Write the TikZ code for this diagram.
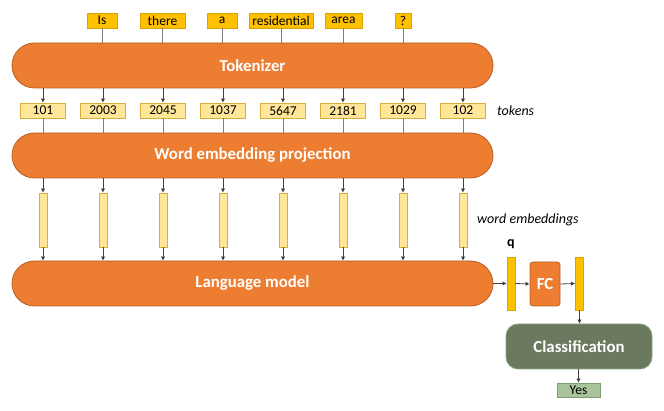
\documentclass[tikz,border=0pt]{standalone}
\usepackage{fontspec}
\setmainfont{Carlito}
\usetikzlibrary{arrows.meta}
\definecolor{orng}{HTML}{ED7D31}
\definecolor{orngd}{HTML}{B85E22}
\definecolor{yel}{HTML}{FFC000}
\definecolor{yeld}{HTML}{D9A400}
\definecolor{lyel}{HTML}{FFE699}
\definecolor{lyeld}{HTML}{D6AF3C}
\definecolor{grn}{HTML}{6B7A5F}
\definecolor{grnd}{HTML}{8CA27C}
\definecolor{lgrn}{HTML}{A9C49C}
\definecolor{lgrnd}{HTML}{7F9C6F}
\definecolor{arrc}{HTML}{404040}
\definecolor{wlc}{HTML}{7F7F7F}
\begin{document}
\begin{tikzpicture}[x=1pt,y=-1pt]
\tikzset{
 bigbar/.style={draw=orngd, fill=orng, rounded corners=22.5pt, minimum width=481pt, minimum height=45pt, inner sep=0pt, font=\fontsize{16.8}{19}\selectfont\bfseries, text=white, line width=0.8pt},
 word/.style={fill=yel, draw=yeld, minimum height=15pt, inner sep=0pt, font=\fontsize{13.5}{15}\selectfont, line width=0.6pt},
 tok/.style={fill=lyel, draw=lyeld, minimum width=45pt, minimum height=15pt, inner sep=0pt, font=\fontsize{13.5}{15}\selectfont, line width=0.8pt},
 emb/.style={fill=lyel, draw=lyeld, minimum width=8pt, minimum height=54pt, inner sep=0pt, line width=0.8pt},
 qbar/.style={fill=yel, draw=yeld, minimum width=8pt, minimum height=53pt, inner sep=0pt, line width=0.8pt},
 arr/.style={-{Latex[length=4pt,width=4.5pt]}, draw=arrc, line width=0.8pt},
 wl/.style={draw=wlc, line width=1pt},
 lbl/.style={font=\fontsize{14}{16}\selectfont\itshape, anchor=west, inner sep=0pt}
}
\useasboundingbox (0,0) rectangle (664,411);

% big blocks
\node[bigbar] (tokz) at (252.5,65.5) {Tokenizer};
\node[bigbar] (wep) at (252.5,155.5) {Word embedding projection};
\node[bigbar] (lm) at (252.5,283.5) {Language model};

% words
\node[word, minimum width=30pt] (w1) at (102,20.5) {Is};
\node[word, minimum width=45pt] (w2) at (162.5,20.5) {there};
\node[word, minimum width=30pt] (w3) at (222,20.5) {a};
\node[word, minimum width=64pt] (w4) at (281,20.5) {residential};
\node[word, minimum width=37pt] (w5) at (343.5,20.5) {area};
\node[word, minimum width=16pt] (w6) at (403,20.5) {?};
\foreach \i in {1,...,6} {
  \draw[wl] (w\i.south) -- (w\i.south |- tokz.north);
}

% tokens and embeddings
\foreach \i/\t in {0/101,1/2003,2/2045,3/1037,4/5647,5/2181,6/1029,7/102} {
  \node[tok] (t\i) at ({43+60*\i},110.5) {\t};
  \draw[arr] (t\i.north |- tokz.south) -- (t\i.north);
  \draw[wl] (t\i.south) -- (t\i.south |- wep.north);
  \node[emb] (e\i) at ({43+60*\i},220) {};
  \draw[arr] (e\i.north |- wep.south) -- (e\i.north);
  \draw[arr] (e\i.south) -- (e\i.south |- lm.north);
}
\node[lbl] (tokl) at (497,110.5) {tokens};
\node[lbl] (webl) at (477,220) {word embeddings};

% head
\node[qbar] (q) at (511,283.5) {};
\node[font=\fontsize{14}{16}\selectfont\bfseries, inner sep=0pt] (ql) at (511,244) {q};
\node[draw=orngd, fill=orng, rounded corners=3pt, minimum width=30pt, minimum height=44pt, inner sep=0pt, text=white, font=\fontsize{16.8}{19}\selectfont\bfseries, line width=0.8pt] (fc) at (545,284) {FC};
\node[qbar] (o) at (579.5,283.5) {};
\node[draw=grnd, fill=grn, rounded corners=12pt, minimum width=146pt, minimum height=45pt, inner sep=0pt, text=white, font=\fontsize{16.8}{19}\selectfont\bfseries, line width=0.8pt] (cls) at (579,346.5) {Classification};
\node[draw=lgrnd, fill=lgrn, minimum width=43pt, minimum height=14pt, inner sep=0pt, font=\fontsize{13.5}{15}\selectfont, line width=0.8pt] (yes) at (578.5,390) {Yes};

\draw[arr] (lm.east) -- (q.west);
\draw[arr] (q.east) -- (fc.west);
\draw[arr] (fc.east) -- (o.west);
\draw[arr] (o.south) -- (o.south |- cls.north);
\draw[arr] (cls.south -| yes.north) -- (yes.north);
\end{tikzpicture}
\end{document}
